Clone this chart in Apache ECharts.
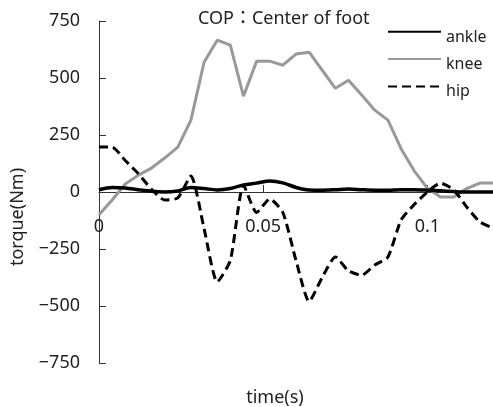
<!DOCTYPE html>
<html>
<head>
<meta charset="utf-8">
<script src="https://cdn.jsdelivr.net/npm/echarts@6/dist/echarts.min.js"></script>
<style>
    html,body{margin:0;padding:0;background:#fff;}
    #main{width:493px;height:407px;}
</style>
</head>
<body>
<div id="main"></div>
<script>
// time (s)
var times = [0, 0.004, 0.008, 0.012, 0.016, 0.020, 0.024, 0.028, 0.032, 0.036,
    0.040, 0.044, 0.048, 0.052, 0.056, 0.060, 0.064, 0.068, 0.072, 0.076,
    0.080, 0.084, 0.088, 0.092, 0.096, 0.100, 0.104, 0.108, 0.112, 0.116, 0.120];

// torque (Nm)
var ankle = [10, 20, 18, 10, 3, 0, 5, 20, 15, 9,
    15, 31, 39, 48, 40, 20, 9, 8, 10, 13,
    10, 8, 8, 10, 10, 8, 5, 2, 0, 0, 0];
var knee = [-100, -35, 35, 74, 105, 149, 197, 315, 569, 666,
    644, 420, 574, 574, 556, 605, 613, 534, 455, 490,
    425, 359, 315, 190, 93, 17, -22, -22, 15, 39, 39];
var hip = [197, 197, 138, 80, 12, -35, -26, 70, -160, -394,
    -300, 30, -90, -30, -90, -300, -480, -374, -285, -346,
    -365, -320, -285, -123, -55, 0, 39, 10, -66, -131, -158];

var seriesNames = ['ankle', 'knee', 'hip'];
var xTicks = [0, 0.05, 0.1];
var yTicks = [-750, -500, -250, 0, 250, 500, 750];

var fontFam = '"Noto Sans", "Noto Sans CJK JP", sans-serif';

function pairs(vals){
    var out = [];
    for (var i = 0; i < times.length; i++) {
        out.push([times[i], vals[i]]);
    }
    return out;
}

var chart = echarts.init(document.getElementById('main'));

var option = {
    animation: false,
    backgroundColor: '#fff',
    title: {
        text: 'COP：Center of foot',
        left: 193,
        top: 5,
        textStyle: {fontFamily: fontFam, fontSize: 18, fontWeight: 'normal', color: '#222'}
    },
    legend: {
        data: seriesNames,
        orient: 'vertical',
        left: 387,
        top: 27,
        padding: 0,
        itemWidth: 53,
        itemHeight: 12,
        itemGap: 9,
        itemStyle: {opacity: 0, borderWidth: 0},
        formatter: '{a|{name}}',
        textStyle: {
            fontFamily: fontFam, fontSize: 16, color: '#222',
            rich: {a: {fontFamily: fontFam, fontSize: 16, color: '#222', padding: [11, 0, 0, 0]}}
        }
    },
    grid: {left: 99, top: 21, right: 0, bottom: 44, outerBoundsMode: 'none', containLabel: false},
    xAxis: {
        type: 'value',
        min: 0,
        max: 0.12,
        interval: 0.05,
        // axis moved up onto the zero line
        offset: -171,
        name: 'time(s)',
        nameLocation: 'middle',
        nameGap: 197,
        nameTextStyle: {fontFamily: fontFam, fontSize: 18, color: '#222', padding: [0, 42, 0, 0]},
        axisLine: {onZero: false, lineStyle: {color: '#333', width: 1}},
        axisTick: {inside: true, length: 7, lineStyle: {color: '#333'}},
        axisLabel: {
            margin: 26,
            fontFamily: fontFam,
            fontSize: 18,
            color: '#222',
            formatter: function(v){
                return xTicks.indexOf(Math.round(v * 1000) / 1000) >= 0 ? String(v) : '';
            }
        },
        splitLine: {show: false}
    },
    yAxis: {
        type: 'value',
        min: yTicks[0],
        max: yTicks[yTicks.length - 1],
        interval: 250,
        name: 'torque(Nm)',
        nameLocation: 'middle',
        nameGap: 72,
        nameTextStyle: {fontFamily: fontFam, fontSize: 18, color: '#222', padding: [0, 50, 0, 0]},
        axisLine: {show: true, lineStyle: {color: '#333', width: 1}},
        axisTick: {show: true, inside: true, length: 7, lineStyle: {color: '#333'}},
        axisLabel: {
            margin: 19,
            fontFamily: fontFam,
            fontSize: 18,
            color: '#222',
            formatter: function(v){
                return String(v).replace('-', '\u2212');
            }
        },
        splitLine: {show: false}
    },
    series: [
        {
            name: 'ankle',
            type: 'line',
            data: pairs(ankle),
            symbol: 'none',
            smooth: 0.3,
            z: 4,
            lineStyle: {color: '#000', width: 3.5},
            itemStyle: {color: '#000'}
        },
        {
            name: 'knee',
            type: 'line',
            data: pairs(knee),
            symbol: 'none',
            z: 2,
            lineStyle: {color: '#999', width: 3},
            itemStyle: {color: '#999'}
        },
        {
            name: 'hip',
            type: 'line',
            data: pairs(hip),
            symbol: 'none',
            smooth: 0.2,
            z: 3,
            lineStyle: {color: '#000', width: 3, type: [9, 5]},
            itemStyle: {color: '#000'}
        }
    ]
};

chart.setOption(option);
</script>
</body>
</html>
